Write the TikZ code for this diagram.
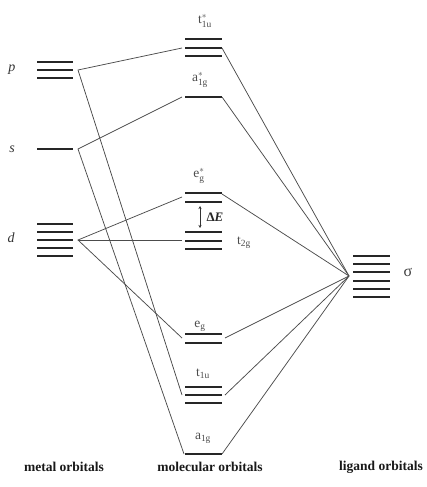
\documentclass[tikz,border=0pt]{standalone}
\usepackage{amsmath}
\usepackage{fontspec}
\setmainfont{Liberation Serif}
\usetikzlibrary{arrows.meta}
\begin{document}
\begin{tikzpicture}[x=1pt,y=-1pt,
  lvl/.style={line width=2.3pt,black!85},
  conn/.style={line width=0.75pt,black!70},
  lab/.style={text=black!70,font=\fontsize{13.5}{14}\selectfont,inner sep=0pt},
  side/.style={text=black!80,font=\fontsize{14}{14}\selectfont\itshape,inner sep=0pt},
  foot/.style={text=black!90,font=\fontsize{13.5}{14}\selectfont\bfseries,inner sep=0pt}]
\useasboundingbox (0,0) rectangle (426,487);
% metal levels
\foreach \y in {62,70,78} \draw[lvl] (37,\y) -- (73,\y);
\draw[lvl] (37,149) -- (73,149);
\foreach \y in {224,232,240,248,256} \draw[lvl] (37,\y) -- (73,\y);
% molecular levels
\foreach \y in {39,48,56} \draw[lvl] (185,\y) -- (222,\y);
\draw[lvl] (185,97) -- (222,97);
\foreach \y in {193,202} \draw[lvl] (185,\y) -- (222,\y);
\foreach \y in {232,241,249} \draw[lvl] (185,\y) -- (222,\y);
\foreach \y in {334,343} \draw[lvl] (185,\y) -- (222,\y);
\foreach \y in {387,395,403} \draw[lvl] (185,\y) -- (222,\y);
\draw[lvl] (185,454) -- (222,454);
% ligand levels
\foreach \y in {256,264,272,281,289,297} \draw[lvl] (353,\y) -- (390,\y);
% connection points
\coordinate (pv) at (78,70);
\coordinate (sv) at (78,149);
\coordinate (dv) at (78,240);
\coordinate (lv) at (349,276);
\coordinate (t1usL) at (182,48);  \coordinate (t1usR) at (222,48);
\coordinate (a1gsL) at (182,97);  \coordinate (a1gsR) at (222,97);
\coordinate (egsL) at (182,197);  \coordinate (egsR) at (222,194);
\coordinate (t2gL) at (182,240);
\coordinate (egL) at (182,338);   \coordinate (egR) at (225,338);
\coordinate (t1uL) at (182,395);  \coordinate (t1uR) at (225,395);
\coordinate (a1gL) at (184,454);  \coordinate (a1gR) at (222,454);
% connectors
\draw[conn] (t1usL) -- (pv) -- (t1uL);
\draw[conn] (a1gsL) -- (sv) -- (a1gL);
\draw[conn] (egsL) -- (dv) -- (egL);
\draw[conn] (dv) -- (t2gL);
\foreach \c in {t1usR,a1gsR,egsR,egR,t1uR,a1gR} \draw[conn] (\c) -- (lv);
% Delta E arrow
\coordinate (dEt) at (200,206);
\coordinate (dEb) at (200,228);
\draw[line width=0.8pt,black!80,{Stealth[length=3pt,width=3pt]}-{Stealth[length=3pt,width=3pt]}] (dEt) -- (dEb);
\node[inner sep=0pt,text=black!85,font=\fontsize{13}{13}\selectfont\bfseries] (dE) at (215,217) {Δ\textit{E}};
% labels
\node[side] (p) at (12,70) {p};
\node[side] (s) at (12,149) {s};
\node[side] (d) at (11,238) {d};
\node[lab] (l1) at (205,21) {$\text{t}_{\text{1u}}^{*}$};
\node[lab] (l2) at (200,80) {$\text{a}_{\text{1g}}^{*}$};
\node[lab] (l3) at (199,176) {$\text{e}_{\text{g}}^{*}$};
\node[lab] (l4) at (244,243) {$\text{t}_{\text{2g}}$};
\node[lab] (l5) at (200,326) {$\text{e}_{\text{g}}$};
\node[lab] (l6) at (203,374) {$\text{t}_{\text{1u}}$};
\node[lab] (l7) at (203,438) {$\text{a}_{\text{1g}}$};
\node[inner sep=0pt,text=black!75,font=\fontsize{16}{16}\selectfont] (sig) at (408,272) {σ};
\node[foot] (f1) at (64,467) {metal orbitals};
\node[foot] (f2) at (210,467) {molecular orbitals};
\node[foot] (f3) at (381,467) {ligand orbitals};
\end{tikzpicture}
\end{document}
